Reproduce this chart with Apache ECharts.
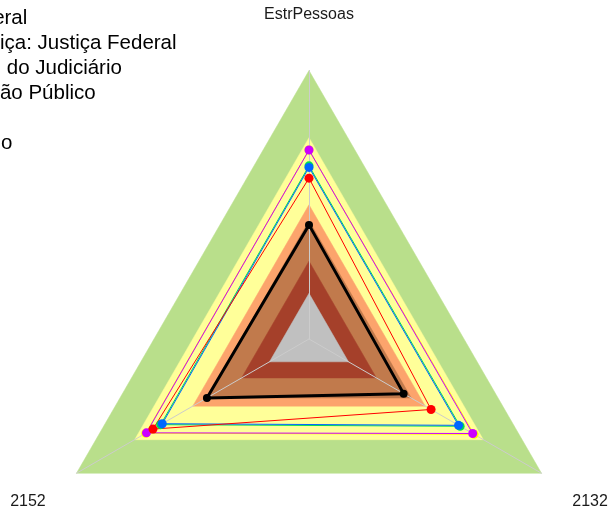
<!DOCTYPE html>
<html>
<head>
<meta charset="utf-8">
<script src="https://cdn.jsdelivr.net/npm/echarts@6/dist/echarts.min.js"></script>
<style>
html,body{margin:0;padding:0;background:#fff;}
#chart{width:611px;height:512px;}
</style>
</head>
<body>
<div id="chart"></div>
<script>
// ---- data ----
const indicatorNames = ['EstrPessoas', '2152', '2132'];
const axisMax = 100;
const bandLevels = [100, 75, 50, 44, 29, 17];
const seriesNames = [
  'Governo Federal',
  'Ramo de Justiça: Justiça Federal',
  'Média setorial do Judiciário',
  'A Administração Público',
  'Mediana',
  'Padrão mínimo'
];
// values in order [EstrPessoas, 2152, 2132]
const valuesBlack   = [42.5, 43.9, 40.7];
const valuesRed     = [59.9, 67.1, 52.5];
const valuesBlue    = [63.9, 63.1, 64.3];
const valuesGreen   = [64.5, 63.8, 65.0];
const valuesMagenta = [70.4, 69.9, 70.4];
const valuesYellow  = [70.4, 70.2, 71.0];

// ---- styles ----
const bandColors = ['#b9df8b', '#ffff99', '#fca46c', '#c17a4c', '#a5402a', '#c0c0c0'];
const FONT = 'Liberation Sans, Arial, sans-serif';

const chart = echarts.init(document.getElementById('chart'), null, {renderer: 'canvas'});

const bandSeries = bandLevels.map((lv, i) => ({
  type: 'radar',
  name: 'band' + i,
  z: 1,
  silent: true,
  symbol: 'none',
  lineStyle: {color: bandColors[i], width: 0.5},
  areaStyle: {color: bandColors[i], opacity: 1},
  data: [{value: indicatorNames.map(() => lv)}]
}));

function dataSeries(name, values, color, width, size, z) {
  return {
    type: 'radar',
    name: name,
    z: z,
    symbol: 'circle',
    symbolSize: size,
    itemStyle: {color: color},
    lineStyle: {color: color, width: width},
    data: [{value: values, name: name}]
  };
}

const lines = [
  dataSeries(seriesNames[5], valuesYellow, '#ffff00', 1, 9, 3),
  dataSeries(seriesNames[4], valuesMagenta, '#cc00ff', 1, 9, 3),
  dataSeries(seriesNames[3], valuesGreen, '#00dd55', 1, 9, 3),
  dataSeries(seriesNames[2], valuesBlue, '#0066ff', 1, 9, 3),
  dataSeries(seriesNames[1], valuesRed, '#ff0000', 1, 9, 3),
  dataSeries(seriesNames[0], valuesBlack, '#000000', 3, 8, 3)
];

chart.setOption({
  animation: false,
  legend: {
    orient: 'vertical',
    left: -156.5,
    top: 8,
    padding: 0,
    itemGap: 4,
    itemWidth: 25,
    itemHeight: 14,
    data: seriesNames,
    textStyle: {fontSize: 20.5, color: '#000', fontFamily: FONT}
  },
  radar: {
    z: 2,
    center: [309, 339],
    radius: 268.5,
    startAngle: 90,
    shape: 'polygon',
    splitNumber: 1,
    nameGap: 56,
    axisName: {
      color: '#1a1a1a',
      fontSize: 16,
      fontFamily: FONT,
      align: 'center',
      verticalAlign: 'middle',
      padding: [5, 0, 0, 0]
    },
    indicator: indicatorNames.map(n => ({name: n, min: 0, max: axisMax})),
    axisLine: {lineStyle: {color: '#cccccc', width: 1}},
    splitLine: {show: false},
    splitArea: {show: false},
    axisTick: {show: false},
    axisLabel: {show: false}
  },
  series: bandSeries.concat(lines)
});
</script>
</body>
</html>
